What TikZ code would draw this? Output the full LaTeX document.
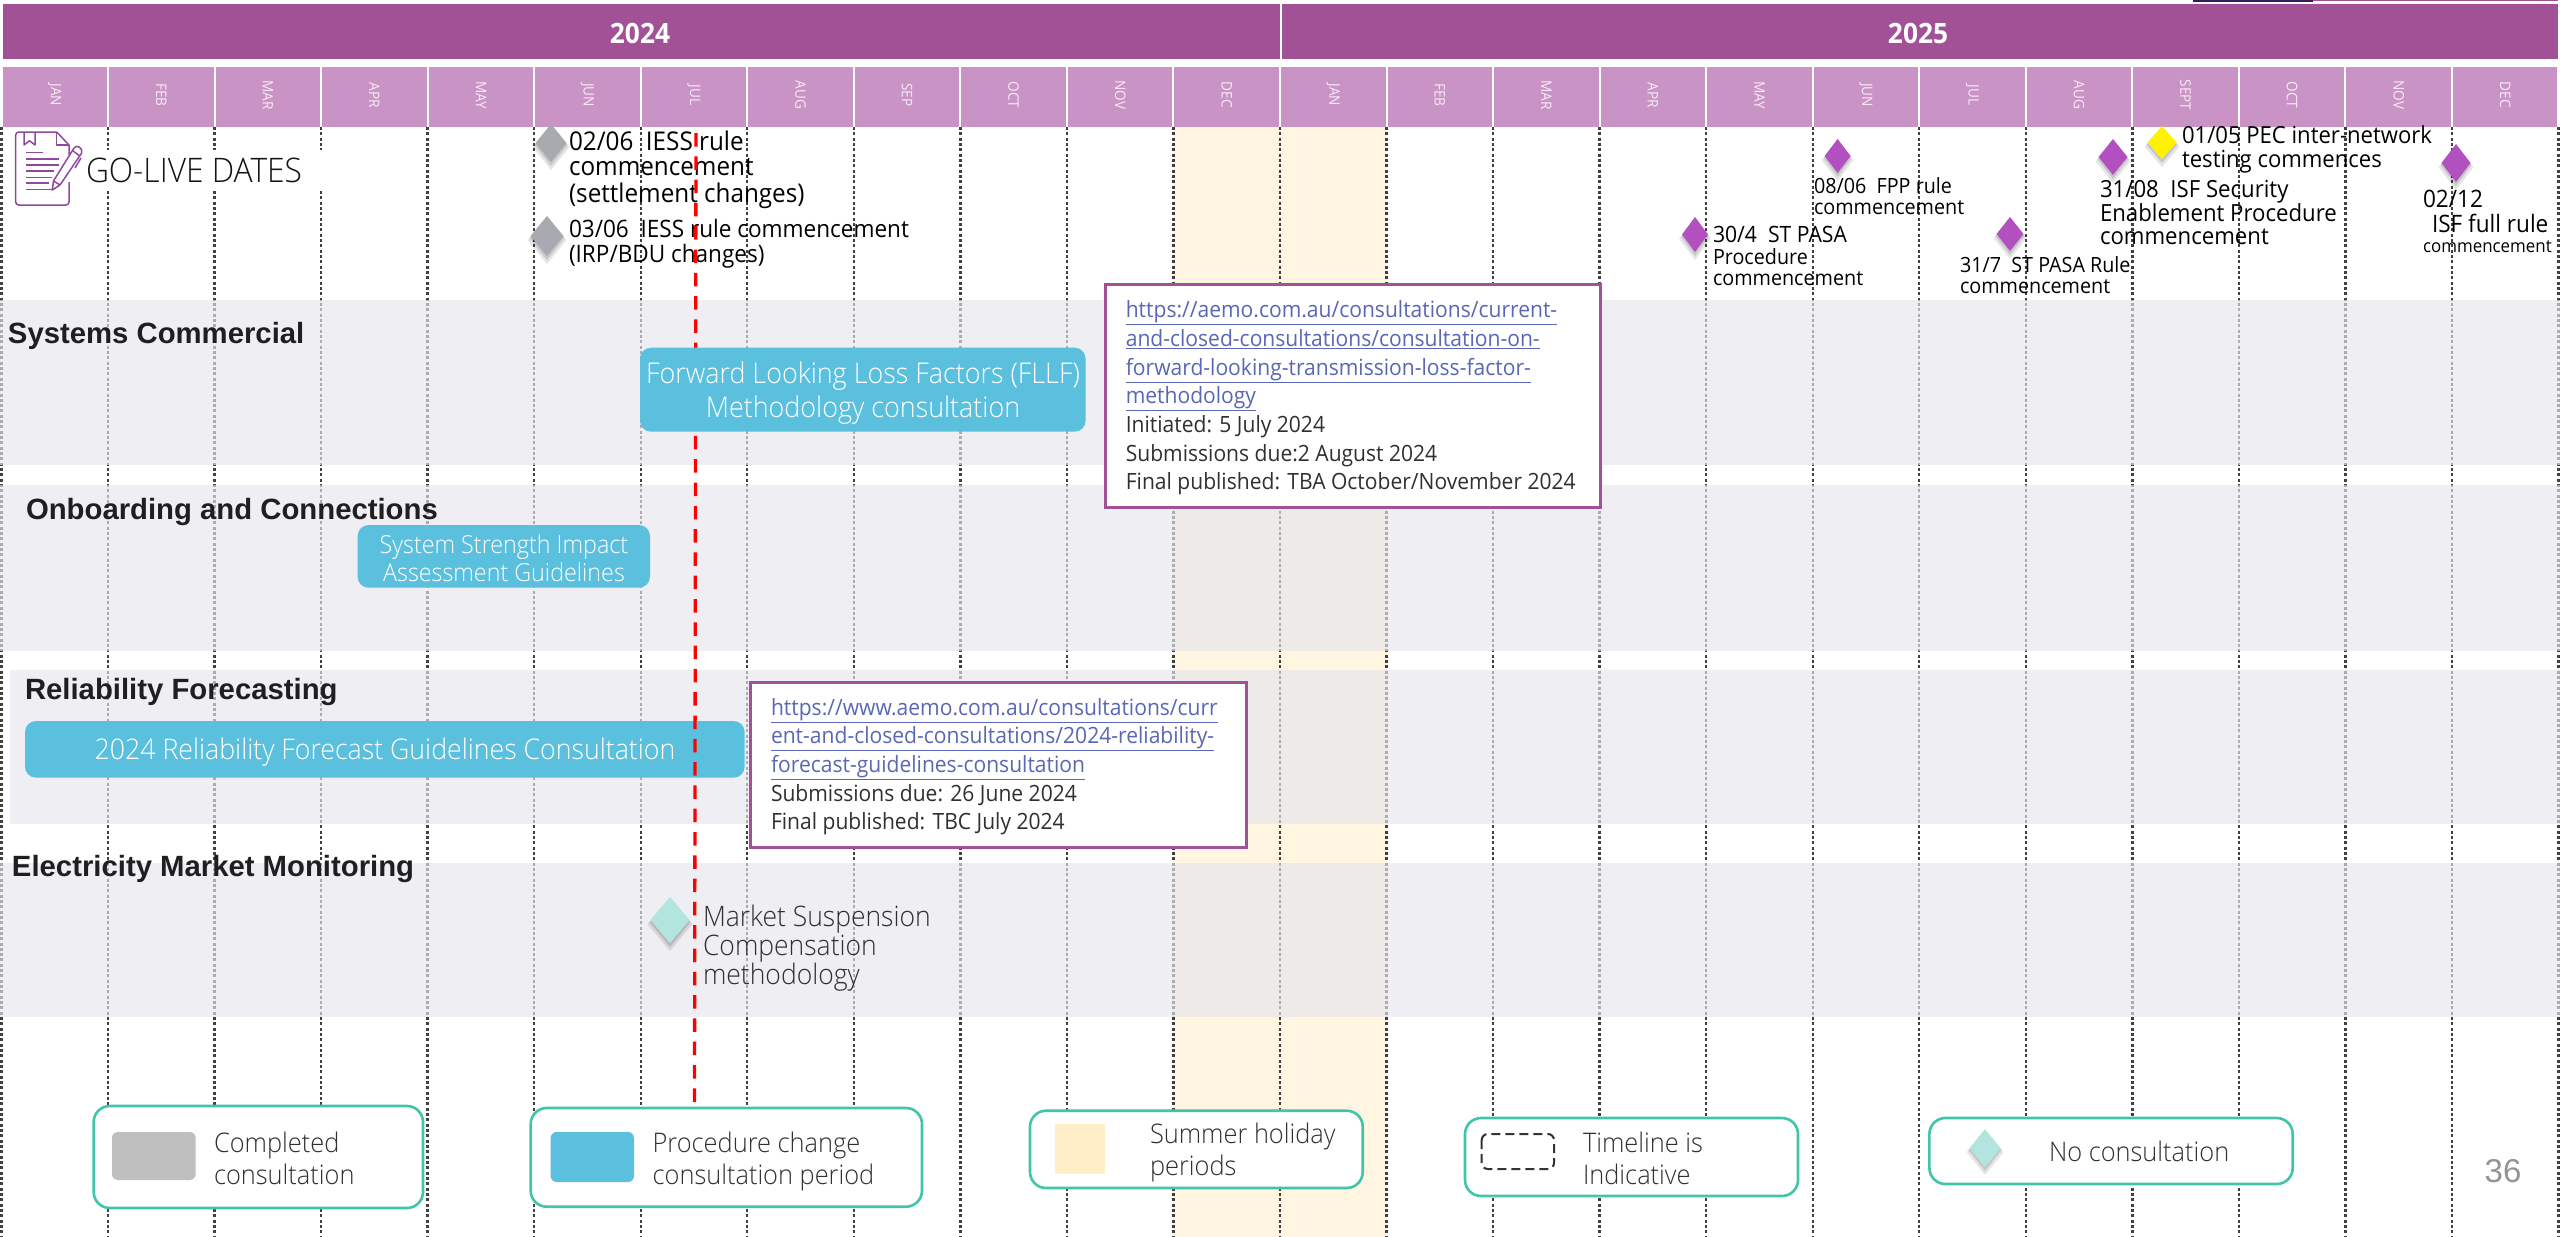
\documentclass[tikz,border=0pt]{standalone}
\usepackage{fontspec}
\setmainfont{Open Sans}[FakeStretch=0.94]
\newfontfamily\lite{Open Sans}[UprightFont=* Light,FakeStretch=0.94]
\newfontfamily\arialb{Liberation Sans}[UprightFont=* Bold]
\newfontfamily\arialr{Liberation Sans}
\definecolor{yearbar}{HTML}{A35196}
\definecolor{monthbar}{HTML}{C993C5}
\definecolor{monthtxt}{HTML}{F7EDF6}
\definecolor{bandc}{HTML}{E5E5ED}
\definecolor{summerc}{HTML}{FFF5E0}
\definecolor{barc}{HTML}{5BC0DE}
\definecolor{tealc}{HTML}{40C4AA}
\definecolor{linkc}{HTML}{5A67B5}
\definecolor{dgray}{HTML}{A9A9B2}
\definecolor{dpurple}{HTML}{B350C0}
\definecolor{dteal}{HTML}{B2E5DE}
\definecolor{iconc}{HTML}{8F4A9F}
\definecolor{txtc}{HTML}{303030}
\definecolor{slivera}{HTML}{3A1A5E}
\definecolor{swatchy}{HTML}{FFEEC8}
\newcommand\fs[2]{\fontsize{#1}{#2}\selectfont}
\newcommand\ml[1]{\begin{tabular}[t]{@{}l@{}}#1\end{tabular}}
\newcommand\mc[1]{\begin{tabular}[t]{@{}c@{}}#1\end{tabular}}
\newcommand\ul[1]{{\color{linkc}\underline{#1}}}
\newcommand\dmd[6]{% name cx cy w h color
  \fill[black,opacity=.10] (#2-#4/2-3,#3+4) -- (#2,#3-#5/2+4) -- (#2+#4/2+3,#3+4) -- (#2,#3+#5/2+8) -- cycle;
  \fill[black,opacity=.13] (#2-#4/2-1,#3+2) -- (#2,#3-#5/2+2) -- (#2+#4/2+1,#3+2) -- (#2,#3+#5/2+4) -- cycle;
  \fill[#6] (#2-#4/2,#3) -- (#2,#3-#5/2) -- (#2+#4/2,#3) -- (#2,#3+#5/2) -- cycle;
  \coordinate (#1) at (#2,#3);}
\tikzset{
  t/.style={anchor=base west,inner sep=0pt,outer sep=0pt,text=black},
  tc/.style={anchor=base,inner sep=0pt,outer sep=0pt},
  heading/.style={t,text=black!88,font=\arialb\fs{29.3}{29.3}},
  grid/.style={draw=black!75,line width=2.4pt,dash pattern=on 3pt off 2.33pt},
  bar/.style={fill=barc,rounded corners=11pt},
  linkbox/.style={draw=yearbar,line width=3pt,fill=white},
  legendbox/.style={draw=tealc,line width=2.6pt,fill=white,rounded corners=16pt},
  legtxt/.style={t,text=txtc,font=\lite\fs{27}{32}},
  boxtxt/.style={t,text=txtc,font=\fs{22.4}{28.7}},
  month/.style={inner sep=0pt,rotate=-90,text=monthtxt,font=\fs{14.5}{15}},
  band/.style={fill=bandc,opacity=.65},
  golive/.style={t,font=\fs{25.8}{25}},
  golivesmall/.style={t,font=\fs{21}{21}},
  iconline/.style={draw=iconc,line width=1.5pt,line join=round},
}
\begin{document}
\begin{tikzpicture}[x=1pt,y=-1pt]
\useasboundingbox (0,0) rectangle (2560,1237);
\fill[white] (0,0) rectangle (2560,1237);
% top right sliver
\fill[slivera] (2193,0) rectangle (2313,1.6);
\fill[yearbar] (2313,0) rectangle (2558,1.2);
% summer
\fill[summerc] (1173.4,127) rectangle (1386.5,1237);
% gridlines
\foreach \k in {0,...,24}{\pgfmathsetmacro\xx{1.5+106.54*\k}\draw[grid] (\xx,127) -- (\xx,1237);}
% bands
\fill[band] (0,300) rectangle (2560,465);
\fill[band] (0,485) rectangle (2560,651);
\fill[band] (10,670) rectangle (2560,824);
\fill[band] (0,863) rectangle (2560,1017);
% year bars
\fill[yearbar] (3,4) rectangle (1279.7,58.7);
\fill[yearbar] (1281.5,4) rectangle (2557.5,58.7);
\node[tc,text=white,font=\bfseries\fs{28}{28}] (y24) at (640,43) {2024};
\node[tc,text=white,font=\bfseries\fs{28}{28}] (y25) at (1918,43) {2025};
% months
\foreach \k/\m in {0/JAN,1/FEB,2/MAR,3/APR,4/MAY,5/JUN,6/JUL,7/AUG,8/SEP,9/OCT,10/NOV,11/DEC,12/JAN,13/FEB,14/MAR,15/APR,16/MAY,17/JUN,18/JUL,19/AUG,20/SEPT,21/OCT,22/NOV,23/DEC}{
  \pgfmathsetmacro\xa{(\k==0?3:1.5+106.54*\k+1)}
  \pgfmathsetmacro\xb{1.5+106.54*(\k+1)-1}
  \pgfmathsetmacro\xc{1.5+106.54*\k+53.3}
  \fill[monthbar] (\xa,67) rectangle (\xb,127);
  \node[month] (m\k) at (\xc,95) {\m};
}
% go-live header
\fill[white] (85,150) rectangle (325,191);
\node[t,text=black!92,font=\lite\fs{33.8}{33.8}] (golive) at (86,182) {GO-LIVE DATES};
% icon
\draw[iconline,rounded corners=3pt] (69,182) -- (69,205) -- (15.7,205) -- (15.7,132) -- (56.7,132);
\draw[iconline] (56.7,132) -- (69,145) -- (69,155);
\draw[iconline] (56.7,132) -- (56.7,145) -- (69,145);
\draw[iconline] (24,132) -- (24,145) -- (29.5,140.7) -- (35,145) -- (35,132);
\foreach \yy/\xe in {152.7/43,159/59,165/59,171/54,177.3/52,183/49,189.7/53}{\draw[iconline] (26,\yy) -- (\xe,\yy);}
\draw[iconline] (52.3,190) -- (53.5,181) -- (74,148) .. controls (77,144) and (83,148) .. (81.7,153) -- (60,185) -- cycle;
\draw[iconline] (72.7,150.7) -- (80,156);
\draw[iconline] (53.5,181) -- (60,185);
\draw[iconline] (75,168) -- (81,158);
% go-live diamonds
\dmd{d1}{551}{143}{31}{38}{dgray}
\dmd{d2}{547}{236}{33}{40}{dgray}
\dmd{d3}{2162}{142.5}{29}{33}{yellow}
\dmd{d4}{1837.6}{156}{26}{34}{dpurple}
\dmd{d5}{2113}{157}{29}{36}{dpurple}
\dmd{d6}{2456}{163}{29}{38}{dpurple}
\dmd{d7}{1695}{234.5}{26}{35}{dpurple}
\dmd{d8}{2010}{234}{27}{34}{dpurple}
% go-live labels
\node[golive] (g1) at (569,150) {\ml{02/06~ IESS rule\\commencement\\(settlement changes)}};
\node[golive,font=\fs{24}{23}] (g2) at (569,237) {\ml{03/06~ IESS rule commencement\\(IRP/BDU changes)}};
\node[golive,font=\fs{23.5}{23}] (g3) at (2182,143) {\ml{01/05 PEC inter-network\\testing commences}};
\node[golivesmall] (g4) at (1814,193) {\ml{08/06~ FPP rule\\commencement}};
\node[golive,font=\fs{23.6}{23}] (g5) at (2100,197) {\ml{31/08~ ISF Security\\Enablement Procedure\\commencement}};
\node[golivesmall] (g6) at (1713,242) {\ml{{\fs{22.5}{21}30/4~ ST PASA}\\Procedure\\commencement}};
\node[golivesmall] (g7) at (1960,272) {\ml{31/7~ ST PASA Rule\\commencement}};
\node[golive,font=\fs{24}{25}] (g8) at (2423,207) {\ml{02/12\\\hspace*{9pt}ISF full rule\\[-5pt]{\fs{18}{25}commencement}}};
% headings
\node[heading] (h1) at (8,343) {Systems Commercial};
\node[heading] (h2) at (26,519) {Onboarding and Connections};
\node[heading] (h3) at (25,699) {Reliability Forecasting};
\node[heading] (h4) at (12,876) {Electricity Market Monitoring};
% bars below the line
\fill[bar] (25,721) rectangle (744.6,777.7);
\node[tc,text=white,font=\lite\fs{28.4}{28.4}] (b3) at (385,759) {2024 Reliability Forecast Guidelines Consultation};
% today line
\coordinate (r1) at (696,133);
\coordinate (r2) at (694.5,1103);
\draw[draw=red,line width=3.3pt,dash pattern=on 13.5pt off 9.8pt] (r1) -- (r2);
% bars above the line
\fill[bar] (640,347.7) rectangle (1085.6,431.7);
\node[tc,text=white,font=\lite\fs{28.6}{34}] (b1) at (863,383) {\mc{Forward Looking Loss Factors (FLLF)\\Methodology consultation}};
\fill[bar] (357.6,525) rectangle (650,587.7);
\node[tc,text=white,font=\lite\fs{24.8}{28}] (b2) at (504,553) {\mc{System Strength Impact\\Assessment Guidelines}};
% link boxes
\draw[linkbox] (1105.7,284) rectangle (1600.7,507.7);
\node[boxtxt] (l1) at (1125.8,317.7) {\ml{\ul{https://aemo.com.au/consultations/current-}\\\ul{and-closed-consultations/consultation-on-}\\\ul{forward-looking-transmission-loss-factor-}\\\ul{methodology}\\Initiated: 5 July 2024\\Submissions due:2 August 2024\\Final published: TBA October/November 2024}};
\draw[linkbox] (750,682) rectangle (1246,847);
\node[boxtxt] (l2) at (771,715) {\ml{\ul{https://www.aemo.com.au/consultations/curr}\\\ul{ent-and-closed-consultations/2024-reliability-}\\\ul{forecast-guidelines-consultation}\\Submissions due: 26 June 2024\\Final published: TBC July 2024}};
% market suspension
\dmd{d9}{670}{920}{39}{46}{dteal}
\node[t,text=txtc,font=\lite\fs{28.2}{27.3}] (ms) at (703,926.7) {\ml{Market Suspension\\Compensation\\methodology}};
% legend
\draw[legendbox] (93.7,1106) rectangle (423,1208);
\fill[black!25,rounded corners=6pt] (112,1132) rectangle (195.7,1180);
\node[legtxt] (k1) at (214,1152) {\ml{Completed\\consultation}};
\draw[legendbox] (530.7,1108) rectangle (922,1206.7);
\fill[barc,rounded corners=6pt] (550.6,1132) rectangle (634,1182);
\node[legtxt] (k2) at (652.6,1152) {\ml{Procedure change\\consultation period}};
\draw[legendbox] (1030,1110.7) rectangle (1362.7,1188);
\fill[swatchy] (1055,1124) rectangle (1105,1174);
\node[legtxt] (k3) at (1150,1143) {\ml{Summer holiday\\periods}};
\draw[legendbox] (1465,1118) rectangle (1798,1196);
\draw[black!80,line width=2pt,dash pattern=on 9pt off 5pt,rounded corners=6pt] (1481.7,1134) rectangle (1554,1169);
\node[legtxt] (k4) at (1583,1152) {\ml{Timeline is\\Indicative}};
\draw[legendbox] (1929.4,1118) rectangle (2292.7,1184);
\dmd{d10}{1985}{1148}{31}{38}{dteal}
\node[legtxt] (k5) at (2049,1161) {No consultation};
% page number
\node[tc,text=black!42,font=\arialr\fs{33}{33}] (pn) at (2503,1182) {36};
\end{tikzpicture}
\end{document}
